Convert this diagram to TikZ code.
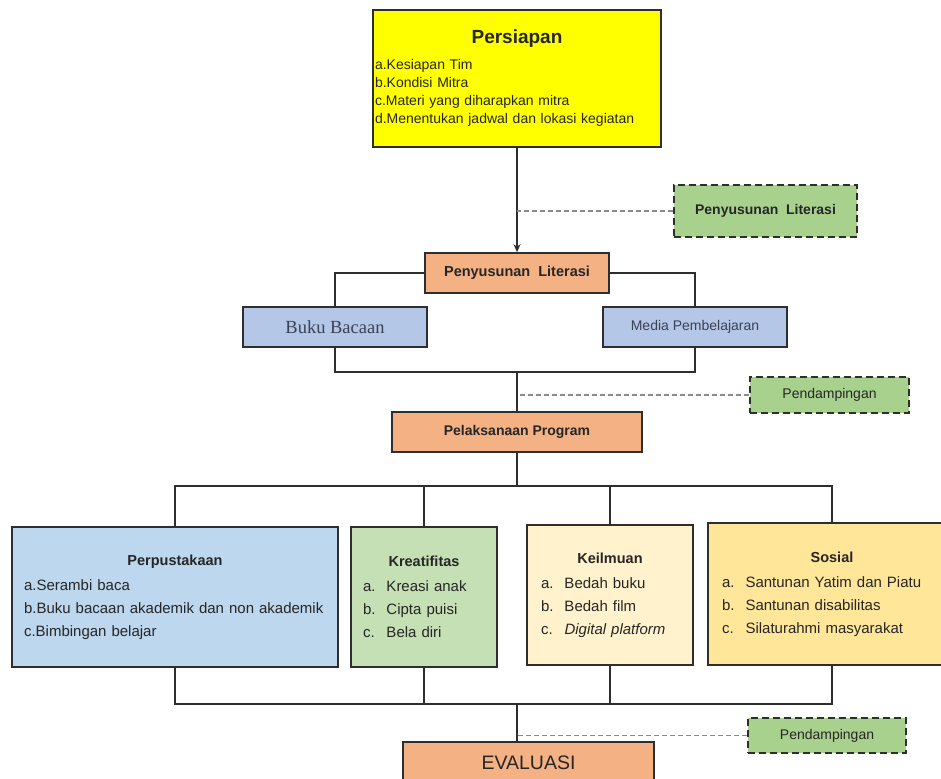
\documentclass[tikz,border=0pt]{standalone}
\usepackage{fontspec}
\setmainfont{Liberation Sans}
\newfontfamily\bookfont{Liberation Serif}
\usetikzlibrary{arrows.meta}

\definecolor{prepyellow}{HTML}{FFFF00}
\definecolor{steporange}{HTML}{F4B183}
\definecolor{mediablue}{HTML}{B4C7E7}
\definecolor{libblue}{HTML}{BDD7EE}
\definecolor{creagreen}{HTML}{C5E0B4}
\definecolor{scicream}{HTML}{FFF2CC}
\definecolor{socgold}{HTML}{FFE699}
\definecolor{helpgreen}{HTML}{A9D18E}
\definecolor{edgegray}{HTML}{2E2E2E}
\definecolor{dashgray}{HTML}{8A8A8A}
\definecolor{slatetext}{HTML}{3A4256}

\newcommand{\boxhead}[2]{\makebox[#1][c]{\bfseries #2}}
\newcommand{\pointitem}[2]{\makebox[23.5pt][l]{#1}#2}

\tikzset{
  box/.style={draw=edgegray, line width=1.6pt, inner sep=0pt, align=center, text=black!85},
  listbox/.style={box, align=left, font=\fontsize{15}{23}\selectfont},
  helpbox/.style={draw=edgegray, line width=2.2pt, dash pattern=on 7pt off 4pt, fill=helpgreen, inner sep=0pt, font=\fontsize{14}{16}\selectfont, text=black!85},
  link/.style={draw=edgegray, line width=1.6pt},
  helplink/.style={draw=dashgray, line width=1.8pt, dash pattern=on 5pt off 3pt}
}

\begin{document}
\begin{tikzpicture}[x=1pt, y=-1pt]
  \useasboundingbox (0,0) rectangle (941,778);
  \node[box, fill=prepyellow, align=left, inner xsep=2pt, text width=284pt, minimum height=137pt, font=\fontsize{14}{18}\selectfont] (prep) at (517,78.5)
    {{\fontsize{19}{22}\selectfont\boxhead{284pt}{Persiapan}}\\[8pt]
     a.Kesiapan Tim\\
     b.Kondisi Mitra\\
     c.Materi yang diharapkan mitra\\
     d.Menentukan jadwal dan lokasi kegiatan};
  \node[helpbox, minimum width=183pt, minimum height=52pt] (help1) at (765.5,211) {\textbf{Penyusunan\ \ Literasi}};
  \node[box, fill=steporange, minimum width=184pt, minimum height=40pt, font=\fontsize{14.5}{16}\selectfont\bfseries] (lit) at (517,273) {Penyusunan\ \ Literasi};
  \node[box, fill=mediablue, minimum width=184pt, minimum height=40pt, font=\bookfont\fontsize{18.5}{20}\selectfont, text=slatetext] (buku) at (335,327) {Buku Bacaan};
  \node[box, fill=mediablue, minimum width=184pt, minimum height=40pt, font=\fontsize{14}{16}\selectfont, text=slatetext] (media) at (695,327) {Media Pembelajaran};
  \coordinate (join) at (517,372);
  \node[helpbox, minimum width=159pt, minimum height=36pt] (pend1) at (829.5,395) {Pendampingan};
  \node[box, fill=steporange, minimum width=250pt, minimum height=40pt, font=\fontsize{14}{16}\selectfont\bfseries] (plak) at (517,432) {Pelaksanaan Program};
  \coordinate (fork) at (517,486);
  \node[listbox, fill=libblue, inner xsep=12pt, text width=302pt, minimum height=140pt] (perp) at (175,597)
    {{\fontsize{14.5}{16}\selectfont\boxhead{302pt}{Perpustakaan}}\\[2pt]
     a.Serambi baca\\
     b.Buku bacaan akademik dan non akademik\\
     c.Bimbingan belajar};
  \node[listbox, fill=creagreen, inner xsep=12pt, text width=122pt, minimum height=140pt] (kreat) at (424,597)
    {{\fontsize{14.5}{16}\selectfont\boxhead{122pt}{Kreatifitas}}\\[2pt]
     \pointitem{a.}{Kreasi anak}\\
     \pointitem{b.}{Cipta puisi}\\
     \pointitem{c.}{Bela diri}};
  \node[listbox, fill=scicream, inner xsep=14pt, text width=138pt, minimum height=140pt] (keil) at (610,595)
    {{\fontsize{14.5}{16}\selectfont\boxhead{138pt}{Keilmuan}}\\[2pt]
     \pointitem{a.}{Bedah buku}\\
     \pointitem{b.}{Bedah film}\\
     \pointitem{c.}{\textit{Digital platform}}};
  \node[listbox, fill=socgold, inner xsep=14pt, text width=220pt, minimum height=142pt] (sos) at (832,594)
    {{\fontsize{14.5}{16}\selectfont\boxhead{220pt}{Sosial}}\\[2pt]
     \pointitem{a.}{Santunan Yatim dan Piatu}\\
     \pointitem{b.}{Santunan disabilitas}\\
     \pointitem{c.}{Silaturahmi masyarakat}};
  \coordinate (merge) at (517,704);
  \node[helpbox, minimum width=158pt, minimum height=35pt] (pend2) at (827,735.5) {Pendampingan};
  \node[box, fill=steporange, minimum width=251pt, minimum height=42pt, font=\fontsize{19.5}{22}\selectfont] (eval) at (528.5,763) {EVALUASI};

  \draw[link, -{Stealth[length=8pt, width=7pt]}] (prep.south) -- (lit.north);
  \draw[helplink] (help1.west) -- (help1.west -| prep.south);
  \draw[link] (lit.west) -| (buku.north);
  \draw[link] (lit.east) -| (media.north);
  \draw[link] (buku.south) |- (join) -| (media.south);
  \draw[link] (join) -- (plak.north);
  \draw[helplink] (pend1.west) -- (pend1.west -| join);
  \draw[link] (plak.south) -- (fork);
  \draw[link] (perp.north) |- (fork) -| (sos.north);
  \draw[link] (kreat.north) -- (kreat.north |- fork);
  \draw[link] (keil.north) -- (keil.north |- fork);
  \draw[link] (perp.south) |- (merge) -| (sos.south);
  \draw[link] (kreat.south) -- (kreat.south |- merge);
  \draw[link] (keil.south) -- (keil.south |- merge);
  \draw[link] (merge) -- (merge |- eval.north);
  \draw[helplink] (pend2.west) -- (pend2.west -| merge);
\end{tikzpicture}
\end{document}
